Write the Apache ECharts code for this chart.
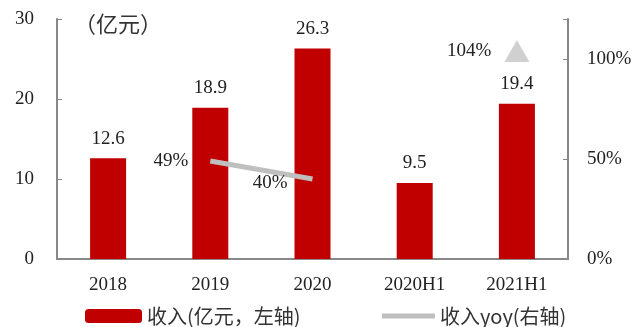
<!DOCTYPE html>
<html><head><meta charset="utf-8">
<script src="https://cdn.jsdelivr.net/npm/echarts@6/dist/echarts.min.js"></script>
<style>html,body{margin:0;padding:0;background:#fff}#c{width:637px;height:327px}</style>
</head><body><div id="c"></div>
<script>
const categories = ['2018', '2019', '2020', '2020H1', '2021H1'];
const revenue = [12.6, 18.9, 26.3, 9.5, 19.4];
const yoyLine = [null, 49, 40, null, null];
const yoyMarker = [null, null, null, null, 104];
const leftTicks = [0, 10, 20, 30];
const rightTicks = [0, 50, 100];

const serif = '"Liberation Serif","DejaVu Serif",serif';
const cjk = '"Noto Sans CJK SC","Liberation Serif",serif';
const lineData = yoyLine.map((v, i) => i === 2 ? {value: v, label: {offset: [-3, 4]}} : v);
const chart = echarts.init(document.getElementById('c'));
chart.setOption({
  animation: false,
  grid: {left: 57, right: 69, top: 19, bottom: 68},
  title: {text: '（亿元）', left: 69, top: 8, textStyle: {fontFamily: cjk, fontSize: 22, fontWeight: 'normal', color: '#333'}},
  legend: [
    {data: ['收入(亿元，左轴)'], left: 80, top: 301, itemWidth: 57, itemHeight: 14, itemGap: 5,
     textStyle: {fontFamily: cjk, fontSize: 20, color: '#333'}},
    {data: [{name: '收入yoy(右轴)', icon: 'rect'}], left: 377, top: 301, itemWidth: 53, itemHeight: 5,
     textStyle: {fontFamily: cjk, fontSize: 20, color: '#333'}}
  ],
  xAxis: {
    type: 'category', data: categories,
    axisLine: {lineStyle: {color: '#888', width: 2}},
    axisTick: {inside: true, length: 5, lineStyle: {color: '#888'}},
    axisLabel: {fontFamily: serif, fontSize: 19, color: '#222', margin: 17}
  },
  yAxis: [
    {type: 'value', min: leftTicks[0], max: leftTicks[leftTicks.length - 1], interval: 10,
     axisLine: {show: true, lineStyle: {color: '#888', width: 2}},
     axisTick: {show: true, inside: true, length: 5, lineStyle: {color: '#888'}},
     splitLine: {show: false},
     axisLabel: {fontFamily: serif, fontSize: 19, color: '#222', margin: 23}},
    {type: 'value', min: 0, max: 120, interval: 50,
     axisLine: {show: true, lineStyle: {color: '#888', width: 2}},
     axisTick: {show: true, inside: true, length: 5, lineStyle: {color: '#888'}},
     splitLine: {show: false},
     axisLabel: {fontFamily: serif, fontSize: 19, color: '#222', margin: 19,
       formatter: v => rightTicks.indexOf(v) >= 0 ? v + '%' : ''}}
  ],
  series: [
    {name: '收入(亿元，左轴)', type: 'bar', data: revenue, barWidth: 36,
     itemStyle: {color: '#c00000'},
     label: {show: true, position: 'top', distance: 10, fontFamily: serif, fontSize: 19, color: '#222'}},
    {name: '收入yoy(右轴)', type: 'line', yAxisIndex: 1, data: lineData,
     symbol: 'circle', symbolSize: 0, showSymbol: true,
     lineStyle: {color: '#bfbfbf', width: 5}, itemStyle: {color: '#bfbfbf'},
     label: {show: true, position: 'left', distance: 22, formatter: p => p.value + '%', fontFamily: serif, fontSize: 19, color: '#222'}},
    {name: 'marker', type: 'scatter', yAxisIndex: 1, data: yoyMarker, symbol: 'triangle', symbolSize: [25, 22],
     itemStyle: {color: '#d0d0d0', opacity: 1},
     label: {show: true, position: 'left', distance: 13, formatter: p => p.value + '%', fontFamily: serif, fontSize: 19, color: '#222'}}
  ]
});
</script></body></html>
